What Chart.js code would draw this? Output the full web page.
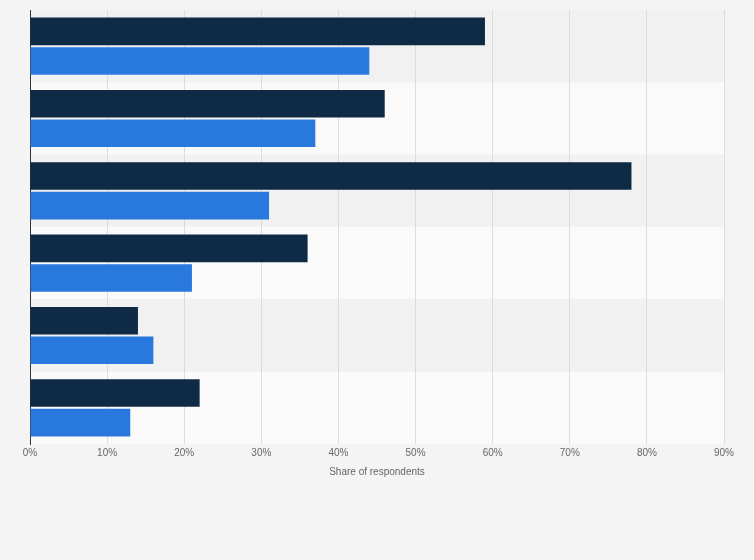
<!DOCTYPE html>
<html><head>
<script src="https://cdn.jsdelivr.net/npm/chart.js@4"></script>
<style>body{margin:0;background:#f4f4f4}#wrap{width:754px;height:560px}</style>
</head><body><div id="wrap"><canvas id="chart"></canvas></div>
<script>
const categories = ["", "", "", "", "", ""];
const seriesA = [59, 46, 78, 36, 14, 22];
const seriesB = [44, 37, 31, 21, 16, 13];
const xTicks = [0, 10, 20, 30, 40, 50, 60, 70, 80, 90];

const bands = {
  id: "bands",
  beforeDraw(c) {
    const { ctx, chartArea: a, scales: { y } } = c;
    const h = (a.bottom - a.top) / categories.length;
    categories.forEach((_, i) => {
      ctx.fillStyle = i % 2 ? "#fafafa" : "#f1f1f1";
      ctx.fillRect(a.left, a.top + i * h, a.right - a.left, h);
    });
  }
};

new Chart(document.getElementById("chart"), {
  type: "bar",
  data: {
    labels: categories,
    datasets: [
      { data: seriesA, backgroundColor: "#0f2a44", categoryPercentage: 0.82, barPercentage: 0.93 },
      { data: seriesB, backgroundColor: "#2878dd", categoryPercentage: 0.82, barPercentage: 0.93 }
    ]
  },
  options: {
    indexAxis: "y",
    animation: false,
    responsive: true,
    maintainAspectRatio: false,
    layout: { padding: { top: 10, right: 30, bottom: 78, left: 0 } },
    plugins: { legend: { display: false }, tooltip: { enabled: false } },
    scales: {
      x: {
        min: 0, max: 90,
        afterBuildTicks: s => { s.ticks = xTicks.map(v => ({ value: v })); },
        ticks: { callback: v => v + "%", color: "#666", font: { size: 10, family: "Arial" } },
        grid: { color: "#dcdcdc", drawTicks: false },
        border: { display: false },
        title: { display: true, text: "Share of respondents", color: "#666", font: { size: 10, family: "Arial" } }
      },
      y: {
        ticks: { display: false },
        grid: { display: false },
        border: { color: "#333", width: 1 },
        afterFit: s => { s.width = 30; }
      }
    }
  },
  plugins: [bands]
});
</script></body></html>
